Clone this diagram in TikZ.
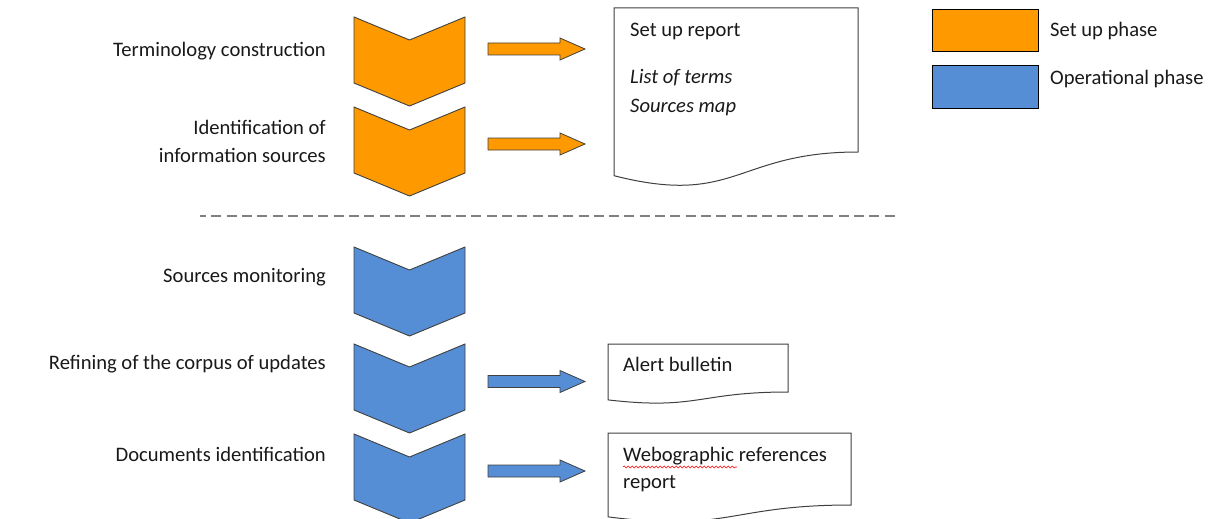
\documentclass[tikz,border=0pt]{standalone}
\usepackage{fontspec}
\setmainfont{Carlito}
\usetikzlibrary{decorations.pathmorphing}
\definecolor{setup}{HTML}{FF9900}
\definecolor{oper}{HTML}{558ED5}
\definecolor{edge}{HTML}{404040}
\definecolor{sepgray}{HTML}{808080}
\tikzset{
  chev/.style={draw=edge, line width=0.9pt, line join=miter},
  barrow/.style={draw=edge, line width=0.8pt},
  doc/.style={draw=edge, fill=white, line width=1pt},
  lbl/.style={inner sep=0pt, font=\fontsize{20.6}{28}\selectfont, text=black!90},
  legendbox/.style={draw=black, line width=1pt},
}
\newcommand{\mychev}[3]{% name, top y, colour
  \path[chev, fill=#3] (354,#2) -- (409.5,#2+23) -- (465,#2) -- (465,#2+66) -- (409.5,#2+89) -- (354,#2+66) -- cycle;
  \coordinate (#1) at (409.5,#2+45);
}
\newcommand{\myarrow}[2]{% centre y, colour
  \path[barrow, fill=#2] (488,#1-6) -- (560,#1-6) -- (560,#1-11) -- (585,#1) -- (560,#1+11) -- (560,#1+6) -- (488,#1+6) -- cycle;
}
\newcommand{\mydoc}[5]{% name, L, R, T, Bright
  \pgfmathsetmacro{\hh}{(#5-#4)/0.80194}
  \pgfmathsetmacro{\bl}{#4+0.93389*\hh}
  \pgfmathsetmacro{\cy}{#4+1.10750*\hh}
  \pgfmathsetmacro{\cx}{(#2+#3)/2}
  \path[doc] (#2,#4) -- (#3,#4) -- (#3,#5) .. controls (\cx,#5) and (\cx,\cy) .. (#2,\bl) -- cycle;
  \coordinate (#1) at (#2,#4);
}
\begin{document}
\begin{tikzpicture}[x=1pt,y=-1pt]
\useasboundingbox (0,0) rectangle (1215,519);
\begin{scope}
\clip (0,0) rectangle (1215,519);
% chevrons
\mychev{c1}{17}{setup}
\mychev{c2}{107}{setup}
\mychev{c3}{247}{oper}
\mychev{c4}{344}{oper}
\mychev{c5}{434}{oper}
% block arrows
\myarrow{49}{setup}
\myarrow{144}{setup}
\myarrow{381.5}{oper}
\myarrow{471}{oper}
% documents
\mydoc{d1}{614}{858}{8}{152}
\mydoc{d2}{608}{788}{344}{392}
\mydoc{d3}{608}{851}{433}{505}
\end{scope}
% left labels
\node[lbl, anchor=east] (t1) at (326,51) {Terminology construction};
\node[lbl, anchor=east, align=right] (t2) at (326,141.5) {Identification of\\information sources};
\node[lbl, anchor=east] (t3) at (326,277) {Sources monitoring};
\node[lbl, anchor=east] (t4) at (326,364) {Refining of the corpus of updates};
\node[lbl, anchor=east] (t5) at (326,454) {Documents identification};
% document texts
\node[lbl, anchor=west] (r1) at (630,31) {Set up report};
\node[lbl, anchor=west] (r2) at (630,78) {\itshape List of terms};
\node[lbl, anchor=west] (r3) at (630,107) {\itshape Sources map};
\node[lbl, anchor=west] (r4) at (623,364) {Alert bulletin};
\node[lbl, anchor=west] (r5) at (623,456) {Webographic references};
\node[lbl, anchor=west] (r6) at (623,484) {report};
\draw[red, line width=0.6pt, decorate, decoration={snake, amplitude=0.9pt, segment length=4pt}] (623,467) -- (737,467);
% dashed separator
\draw[sepgray, line width=2pt, dash pattern=on 10pt off 5.3pt, dash phase=4pt] (200,216) -- (898,216);
% legend
\path[legendbox, fill=setup] (932,10) rectangle (1038,52);
\path[legendbox, fill=oper] (932,66) rectangle (1038,108);
\node[lbl, anchor=west] (l1) at (1050,31) {Set up phase};
\node[lbl, anchor=west] (l2) at (1050,79) {Operational phase};
\end{tikzpicture}
\end{document}
